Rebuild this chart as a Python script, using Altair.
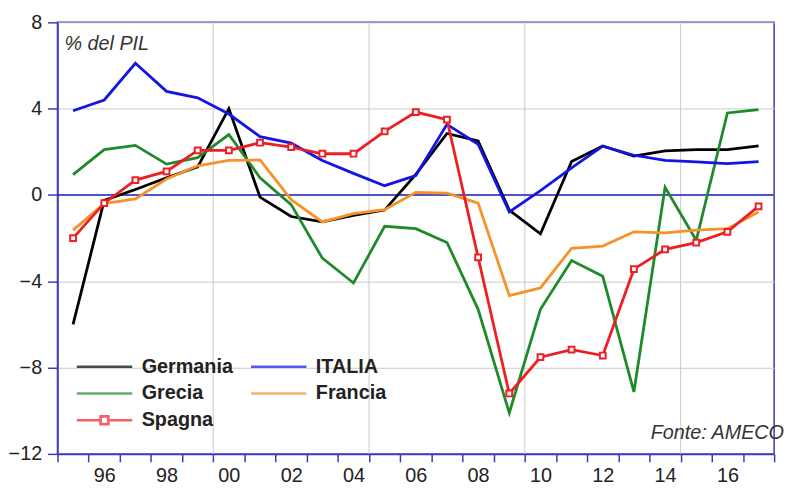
import altair as alt
import pandas as pd

# ---------------- data ----------------
years = list(range(1995, 2018))
germania = [-6.0, -0.25, 0.25, 0.8, 1.3, 4.0, -0.1, -1.0, -1.25, -0.95, -0.7, 0.95,
            2.85, 2.5, -0.7, -1.8, 1.55, 2.27, 1.8, 2.04, 2.1, 2.1, 2.27]
italia = [3.9, 4.4, 6.1, 4.8, 4.5, 3.75, 2.7, 2.4, 1.6, 1.0, 0.43, 0.9,
          3.27, 2.35, -0.79, 0.2, 1.25, 2.26, 1.84, 1.6, 1.53, 1.45, 1.55]
grecia = [0.94, 2.1, 2.3, 1.43, 1.73, 2.8, 0.8, -0.45, -2.93, -4.08, -1.45, -1.56,
          -2.2, -5.3, -10.1, -5.3, -3.04, -3.77, -9.13, 0.35, -2.1, 3.8, 3.95]
francia = [-1.63, -0.4, -0.18, 0.74, 1.35, 1.6, 1.62, -0.22, -1.25, -0.87, -0.68, 0.12,
           0.08, -0.38, -4.66, -4.31, -2.47, -2.37, -1.71, -1.76, -1.63, -1.56, -0.79]
spagna = [-2.0, -0.38, 0.69, 1.09, 2.07, 2.07, 2.42, 2.22, 1.91, 1.91, 2.95, 3.84,
          3.49, -2.89, -9.2, -7.52, -7.17, -7.44, -3.44, -2.52, -2.21, -1.71, -0.53]

series_names = ["Germania", "ITALIA", "Grecia", "Francia", "Spagna"]
series_colors = ["#000000", "#1414e6", "#1f8a2a", "#f5932a", "#ee1f24"]
draw_order = ["Germania", "Grecia", "Francia", "ITALIA", "Spagna"]
# legend fills column by column: first column, then second column
legend_order = ["Germania", "Grecia", "Spagna", "ITALIA", "Francia"]
grid_years = [2000, 2005, 2010, 2015]
y_ticks = [-12, -8, -4, 0, 4, 8]
x_ticks = list(range(1995, 2019))
unit_label = "% del PIL"
source_label = "Fonte: AMECO"

values = {"Germania": germania, "ITALIA": italia, "Grecia": grecia,
          "Francia": francia, "Spagna": spagna}
color_of = dict(zip(series_names, series_colors))
rows = []
for name in draw_order:
    for yr, v in zip(years, values[name]):
        rows.append({"serie": name, "x": yr + 0.5, "v": v})
df = pd.DataFrame(rows)

# ---------------- styling ----------------
BLUE = "#3a3ab8"
GRID = "#c8c8c8"
FONT = "Liberation Sans"
W, H = 724, 436
half_year_px = W / (2018 - 1995) / 2

x_scale = alt.Scale(domain=[1995, 2018], nice=False, zero=False)
y_scale = alt.Scale(domain=[-12, 8], nice=False, zero=False)

x_axis = alt.Axis(values=x_ticks, format="d",
                  labelExpr="datum.value % 2 == 0 && datum.value < 2018 ? substring(datum.label, 2, 4) : ''",
                  labelOffset=half_year_px, labelOverlap=False, labelFlush=False,
                  grid=False, tickSize=8, tickColor=BLUE, tickWidth=1.5,
                  domainColor=BLUE, domainWidth=1.5, labelFontSize=20, labelColor="#222",
                  labelFont=FONT, labelPadding=4, title=None)
y_axis = alt.Axis(values=y_ticks, grid=True, gridColor=GRID, gridWidth=1,
                  tickSize=10, tickColor=BLUE, tickWidth=1.5,
                  domainColor=BLUE, domainWidth=1.5, labelFontSize=20, labelColor="#222",
                  labelFont=FONT, labelPadding=6, title=None)

X = alt.X("x:Q", scale=x_scale, axis=x_axis)
Y = alt.Y("v:Q", scale=y_scale, axis=y_axis)
color_scale = alt.Scale(domain=legend_order, range=[color_of[n] for n in legend_order])

line_path = "M-1,0H1"
marker_path = "M-1,0H-0.14M0.14,0H1M-0.14,-0.14H0.14V0.14H-0.14Z"
shape_scale = alt.Scale(domain=legend_order,
                        range=[marker_path if n == "Spagna" else line_path for n in legend_order])

legend = alt.Legend(title=None, orient="none", legendX=18, legendY=338, columns=2,
                    clipHeight=20, rowPadding=7, columnPadding=16, symbolSize=3136,
                    symbolStrokeWidth=2.6, labelFontSize=20, labelFontWeight="bold",
                    labelFont=FONT, labelColor="#222", labelOffset=8, padding=0,
                    symbolOffset=0, labelLimit=300)

# ---------------- layers ----------------
vgrid = alt.Chart(pd.DataFrame({"x": grid_years})).mark_rule(
    color=GRID, strokeWidth=1).encode(x=X)

zero = alt.Chart(pd.DataFrame({"v": [0]})).mark_rule(
    color="#2020c0", strokeWidth=1.5).encode(y=Y)

base = alt.Chart(df)
line_layers = []
for name in draw_order:
    line_layers.append(
        base.transform_filter(alt.datum.serie == name)
        .mark_line(strokeWidth=2.8, color=color_of[name])
        .encode(x=X, y=Y)
    )

markers = base.transform_filter(alt.datum.serie == "Spagna").mark_point(
    shape="square", size=34, filled=True, fill="white", stroke=color_of["Spagna"],
    strokeWidth=2, opacity=1).encode(x=X, y=Y)

# legend-only layer: its points sit far outside the y domain and are clipped away
legend_df = pd.DataFrame({"serie": legend_order, "x": [1996.0] * 5, "v": [-100.0] * 5})
legend_layer = alt.Chart(legend_df).mark_point(
    clip=True, filled=False, strokeWidth=2.6).encode(
    x=X, y=Y,
    color=alt.Color("serie:N", scale=color_scale, legend=legend),
    shape=alt.Shape("serie:N", scale=shape_scale, legend=legend),
)

unit_text = alt.Chart(pd.DataFrame({"t": [unit_label]})).mark_text(
    align="left", baseline="middle", fontSize=20, fontStyle="italic", font=FONT,
    color="#333").encode(x=alt.value(7), y=alt.value(22), text="t:N")

source_text = alt.Chart(pd.DataFrame({"t": [source_label]})).mark_text(
    align="right", baseline="middle", fontSize=20, fontStyle="italic", font=FONT,
    color="#333").encode(x=alt.value(734), y=alt.value(415), text="t:N")

chart = alt.layer(vgrid, zero, *line_layers, markers, legend_layer, unit_text, source_text).properties(
    width=W, height=H,
    autosize=alt.AutoSizeParams(type="none"),
    padding={"left": 50, "top": 12, "right": 12, "bottom": 35},
    background="white",
).configure_view(stroke=BLUE, strokeWidth=1.5)

chart.save("out.html", embed_options={"renderer": "svg", "actions": False})
